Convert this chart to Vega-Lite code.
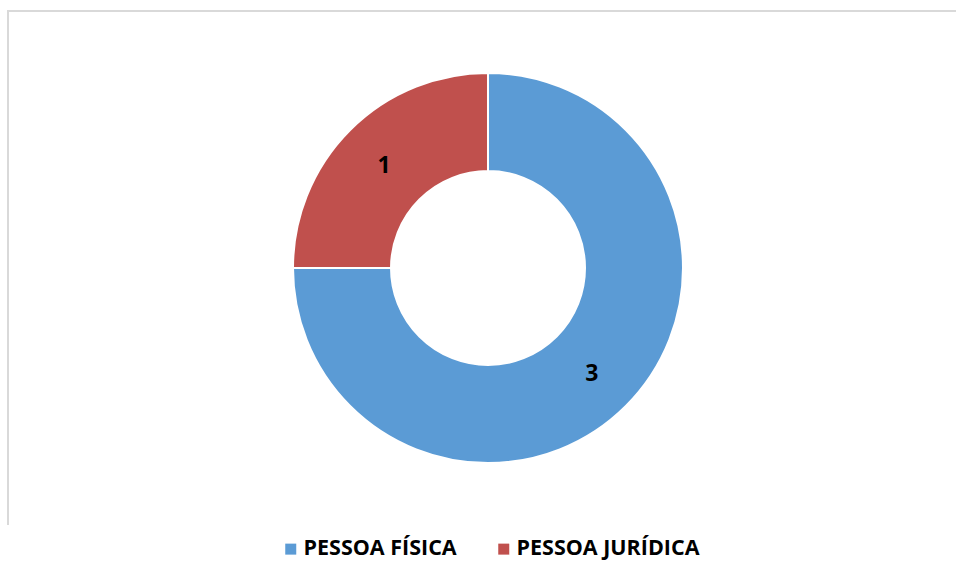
{
  "$schema": "https://vega.github.io/schema/vega-lite/v6.json",
  "width": 960,
  "height": 514,
  "padding": {"left": 8, "top": 11, "right": 0, "bottom": 55},
  "autosize": {"type": "pad"},
  "background": "white",
  "view": {"stroke": "#d9d9d9", "strokeWidth": 2, "strokeDash": [960, 1474, 514]},
  "data": {
    "values": [
      {"categoria": "PESSOA FÍSICA", "quantidade": 3, "ordem": 1},
      {"categoria": "PESSOA JURÍDICA", "quantidade": 1, "ordem": 2}
    ]
  },
  "encoding": {
    "theta": {"field": "quantidade", "type": "quantitative", "stack": true},
    "order": {"field": "ordem", "type": "quantitative"}
  },
  "layer": [
    {
      "mark": {"type": "arc", "innerRadius": 97, "outerRadius": 195, "stroke": "white", "strokeWidth": 2},
      "encoding": {
        "color": {
          "field": "categoria",
          "type": "nominal",
          "scale": {"domain": ["PESSOA FÍSICA", "PESSOA JURÍDICA"], "range": ["#5B9BD5", "#C0504D"]},
          "legend": {
            "title": null,
            "orient": "none",
            "legendX": 272,
            "legendY": 527,
            "direction": "horizontal",
            "symbolType": "square",
            "symbolSize": 121,
            "symbolStrokeWidth": 0,
            "labelFont": "Open Sans",
            "labelFontWeight": "bold",
            "labelFontSize": 21.5,
            "labelColor": "black",
            "labelOffset": 2,
            "columnPadding": 36,
            "labelLimit": 400
          }
        }
      }
    },
    {
      "mark": {"type": "text", "radius": 147, "dy": 2, "font": "Open Sans", "fontWeight": "bold", "fontSize": 23, "fill": "black"},
      "encoding": {
        "detail": {"field": "categoria", "type": "nominal"},
        "text": {"field": "quantidade", "type": "quantitative"}
      }
    }
  ]
}
